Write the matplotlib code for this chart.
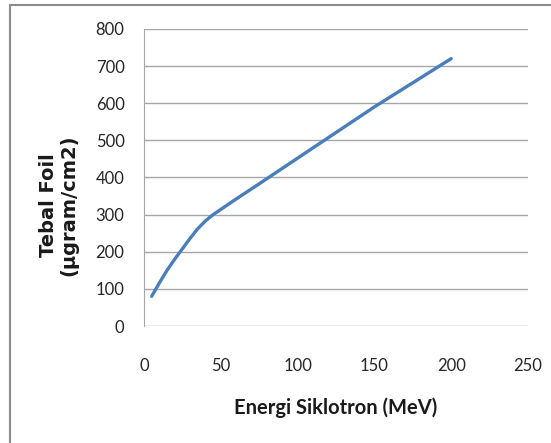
import matplotlib
matplotlib.use('Agg')
from matplotlib import pyplot
from matplotlib.patches import Rectangle

energy = [5, 10, 15, 20, 25, 30, 35, 40, 45, 50, 60, 75, 100, 125, 150, 175, 200]
thickness = [80, 116, 150, 180, 208, 236, 262, 283, 300, 314, 342, 383, 452, 521, 590, 655, 720]

pyplot.rcParams['font.family'] = ['Lato', 'DejaVu Sans']

fig = pyplot.figure(figsize=(5.51, 4.43), dpi=100)
axis = fig.add_axes([0.2613, 0.264, 0.6969, 0.6707])

axis.plot(energy, thickness, color='#4A7EBB', linewidth=2.4, solid_capstyle='round')

axis.set_xlim(0, 250)
axis.set_ylim(0, 800)
axis.set_xticks(range(0, 251, 50))
axis.set_yticks(range(0, 801, 100))
axis.yaxis.grid(True, color='#A6A6A6', linewidth=1)
axis.set_axisbelow(True)
axis.tick_params(length=0, labelsize=12, colors='#262626')
axis.tick_params(axis='x', pad=23)
axis.tick_params(axis='y', pad=14)
for side in ['top', 'right', 'bottom']:
    axis.spines[side].set_visible(False)
axis.spines['left'].set_color('#A6A6A6')

fig.text(0.609, 0.08, 'Energi Siklotron (MeV)', ha='center', va='center',
         fontsize=14.5, fontweight='bold', color='#1A1A1A')
fig.text(0.107, 0.537, 'Tebal Foil\n(µgram/cm2)', ha='center', va='center',
         rotation=90, fontsize=14, fontweight='bold', color='#1A1A1A',
         family='DejaVu Sans', linespacing=1.1)

fig.patches.append(Rectangle((10 / 551, -0.1), 1.2, 1 - 5 / 443 + 0.1,
                             transform=fig.transFigure, fill=False,
                             edgecolor='#8C8C8C', linewidth=1.5))

fig.savefig('out.png')
